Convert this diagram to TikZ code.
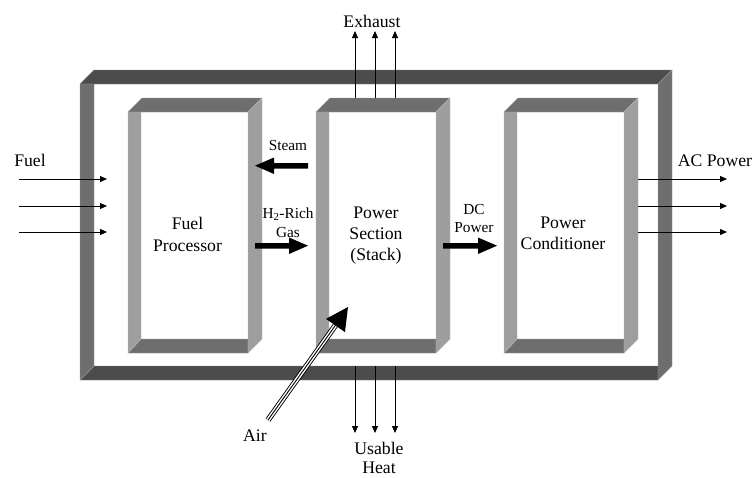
\documentclass[tikz,border=0pt]{standalone}
\usepackage{fontspec}
\setmainfont{Liberation Serif}
\usetikzlibrary{arrows.meta}
\begin{document}
\begin{tikzpicture}[x=1pt,y=-1pt,
  big/.style={font=\fontsize{17.7}{22}\selectfont, inner sep=0pt, anchor=base},
  small/.style={font=\fontsize{15.3}{19}\selectfont, inner sep=0pt, anchor=base},
  thinarrow/.style={line width=0.9pt, -{Triangle[length=7pt,width=6pt]}},
  darkbar/.style={fill=black!70, draw=black!50, line width=0.4pt},
  midbar/.style={fill=black!57, draw=black!40, line width=0.4pt},
  lightbar/.style={fill=black!38, draw=black!28, line width=0.4pt},
  blockarrow/.style={fill=black}
]
\useasboundingbox (0,0) rectangle (755,477);

% ---- outer frame ----
\fill[darkbar] (80,84) -- (94,70) -- (672,70) -- (658,84) -- cycle;
\fill[darkbar] (80,380) -- (94,366) -- (658,366) -- (658,380) -- cycle;
\fill[midbar] (80,84) -- (94,84) -- (94,366) -- (80,380) -- cycle;
\fill[midbar] (658,84) -- (672,70) -- (672,366) -- (658,380) -- cycle;

% ---- inner boxes ----
\foreach \xa in {128,316,504}{
  \pgfmathsetmacro{\xb}{\xa+134}
  \fill[midbar] (\xa,112) -- (\xa+14,98) -- (\xb,98) -- (\xb-14,112) -- cycle;
  \fill[midbar] (\xa,353) -- (\xa+13,339) -- (\xb-14,339) -- (\xb-14,353) -- cycle;
  \fill[lightbar] (\xa,112) -- (\xa+13,112) -- (\xa+13,339) -- (\xa,353) -- cycle;
  \fill[lightbar] (\xb-14,112) -- (\xb,98) -- (\xb,339) -- (\xb-14,353) -- cycle;
}

% ---- labels ----
\node[big] (exh) at (372,27) {Exhaust};
\node[big] (fuel) at (30,166.7) {Fuel};
\node[big] (ac) at (715,166) {AC Power};
\node[small] (steam) at (288,150.7) {Steam};
\node[small] (h2) at (288,218.3) {H\textsubscript{2}-Rich};
\node[small] (gas) at (288,237) {Gas};
\node[small] (dc) at (474,214.3) {DC};
\node[small] (dcp) at (474,232.7) {Power};
\node[big] (fp1) at (187.5,229.3) {Fuel};
\node[big] (fp2) at (187.5,251) {Processor};
\node[big] (ps1) at (376,218.3) {Power};
\node[big] (ps2) at (376,239) {Section};
\node[big] (ps3) at (376,260) {(Stack)};
\node[big] (pc1) at (563,228.3) {Power};
\node[big] (pc2) at (563,249.3) {Conditioner};
\node[big] (air) at (255,441.7) {Air};
\node[big] (uh1) at (379,454.5) {Usable};
\node[big] (uh2) at (379,473.5) {Heat};

% ---- thin arrows ----
\foreach \i/\y in {1/179,2/206,3/232}{
  \coordinate (fs\i) at (19,\y);  \coordinate (fe\i) at (107,\y);
  \draw[thinarrow] (fs\i) -- (fe\i);
  \coordinate (as\i) at (638,\y); \coordinate (ae\i) at (727,\y);
  \draw[thinarrow] (as\i) -- (ae\i);
}
\foreach \i/\x in {1/355,2/375,3/395}{
  \coordinate (es\i) at (\x,98);  \coordinate (ee\i) at (\x,31);
  \draw[thinarrow] (es\i) -- (ee\i);
  \coordinate (hs\i) at (\x,366); \coordinate (he\i) at (\x,433);
  \draw[thinarrow] (hs\i) -- (he\i);
}

% ---- block arrows ----
% Steam (leftwards)
\fill[blockarrow] (308,163) -- (274,163) -- (274,157.5) -- (255,165.7) -- (274,174) -- (274,168.5) -- (308,168.5) -- cycle;
% H2-rich gas (rightwards)
\fill[blockarrow] (255,243) -- (289,243) -- (289,237.5) -- (308,245.7) -- (289,254) -- (289,248.5) -- (255,248.5) -- cycle;
% DC power (rightwards)
\fill[blockarrow] (443,243) -- (478,243) -- (478,237.5) -- (497,245.7) -- (478,254) -- (478,248.5) -- (443,248.5) -- cycle;

% ---- air arrow ----
\coordinate (airtail) at (268,420);
\coordinate (airbase) at (336,324.5);
\coordinate (airtip) at (348,307);
\draw[line width=5.6pt, black] (airtail) -- (airbase);
\draw[line width=3.8pt, white] (airtail) -- (airbase);
\draw[line width=0.9pt, black] (airtail) -- (airbase);
\fill[black] (airtip) -- (326,318.9) -- (345,332.1) -- cycle;

\end{tikzpicture}
\end{document}
